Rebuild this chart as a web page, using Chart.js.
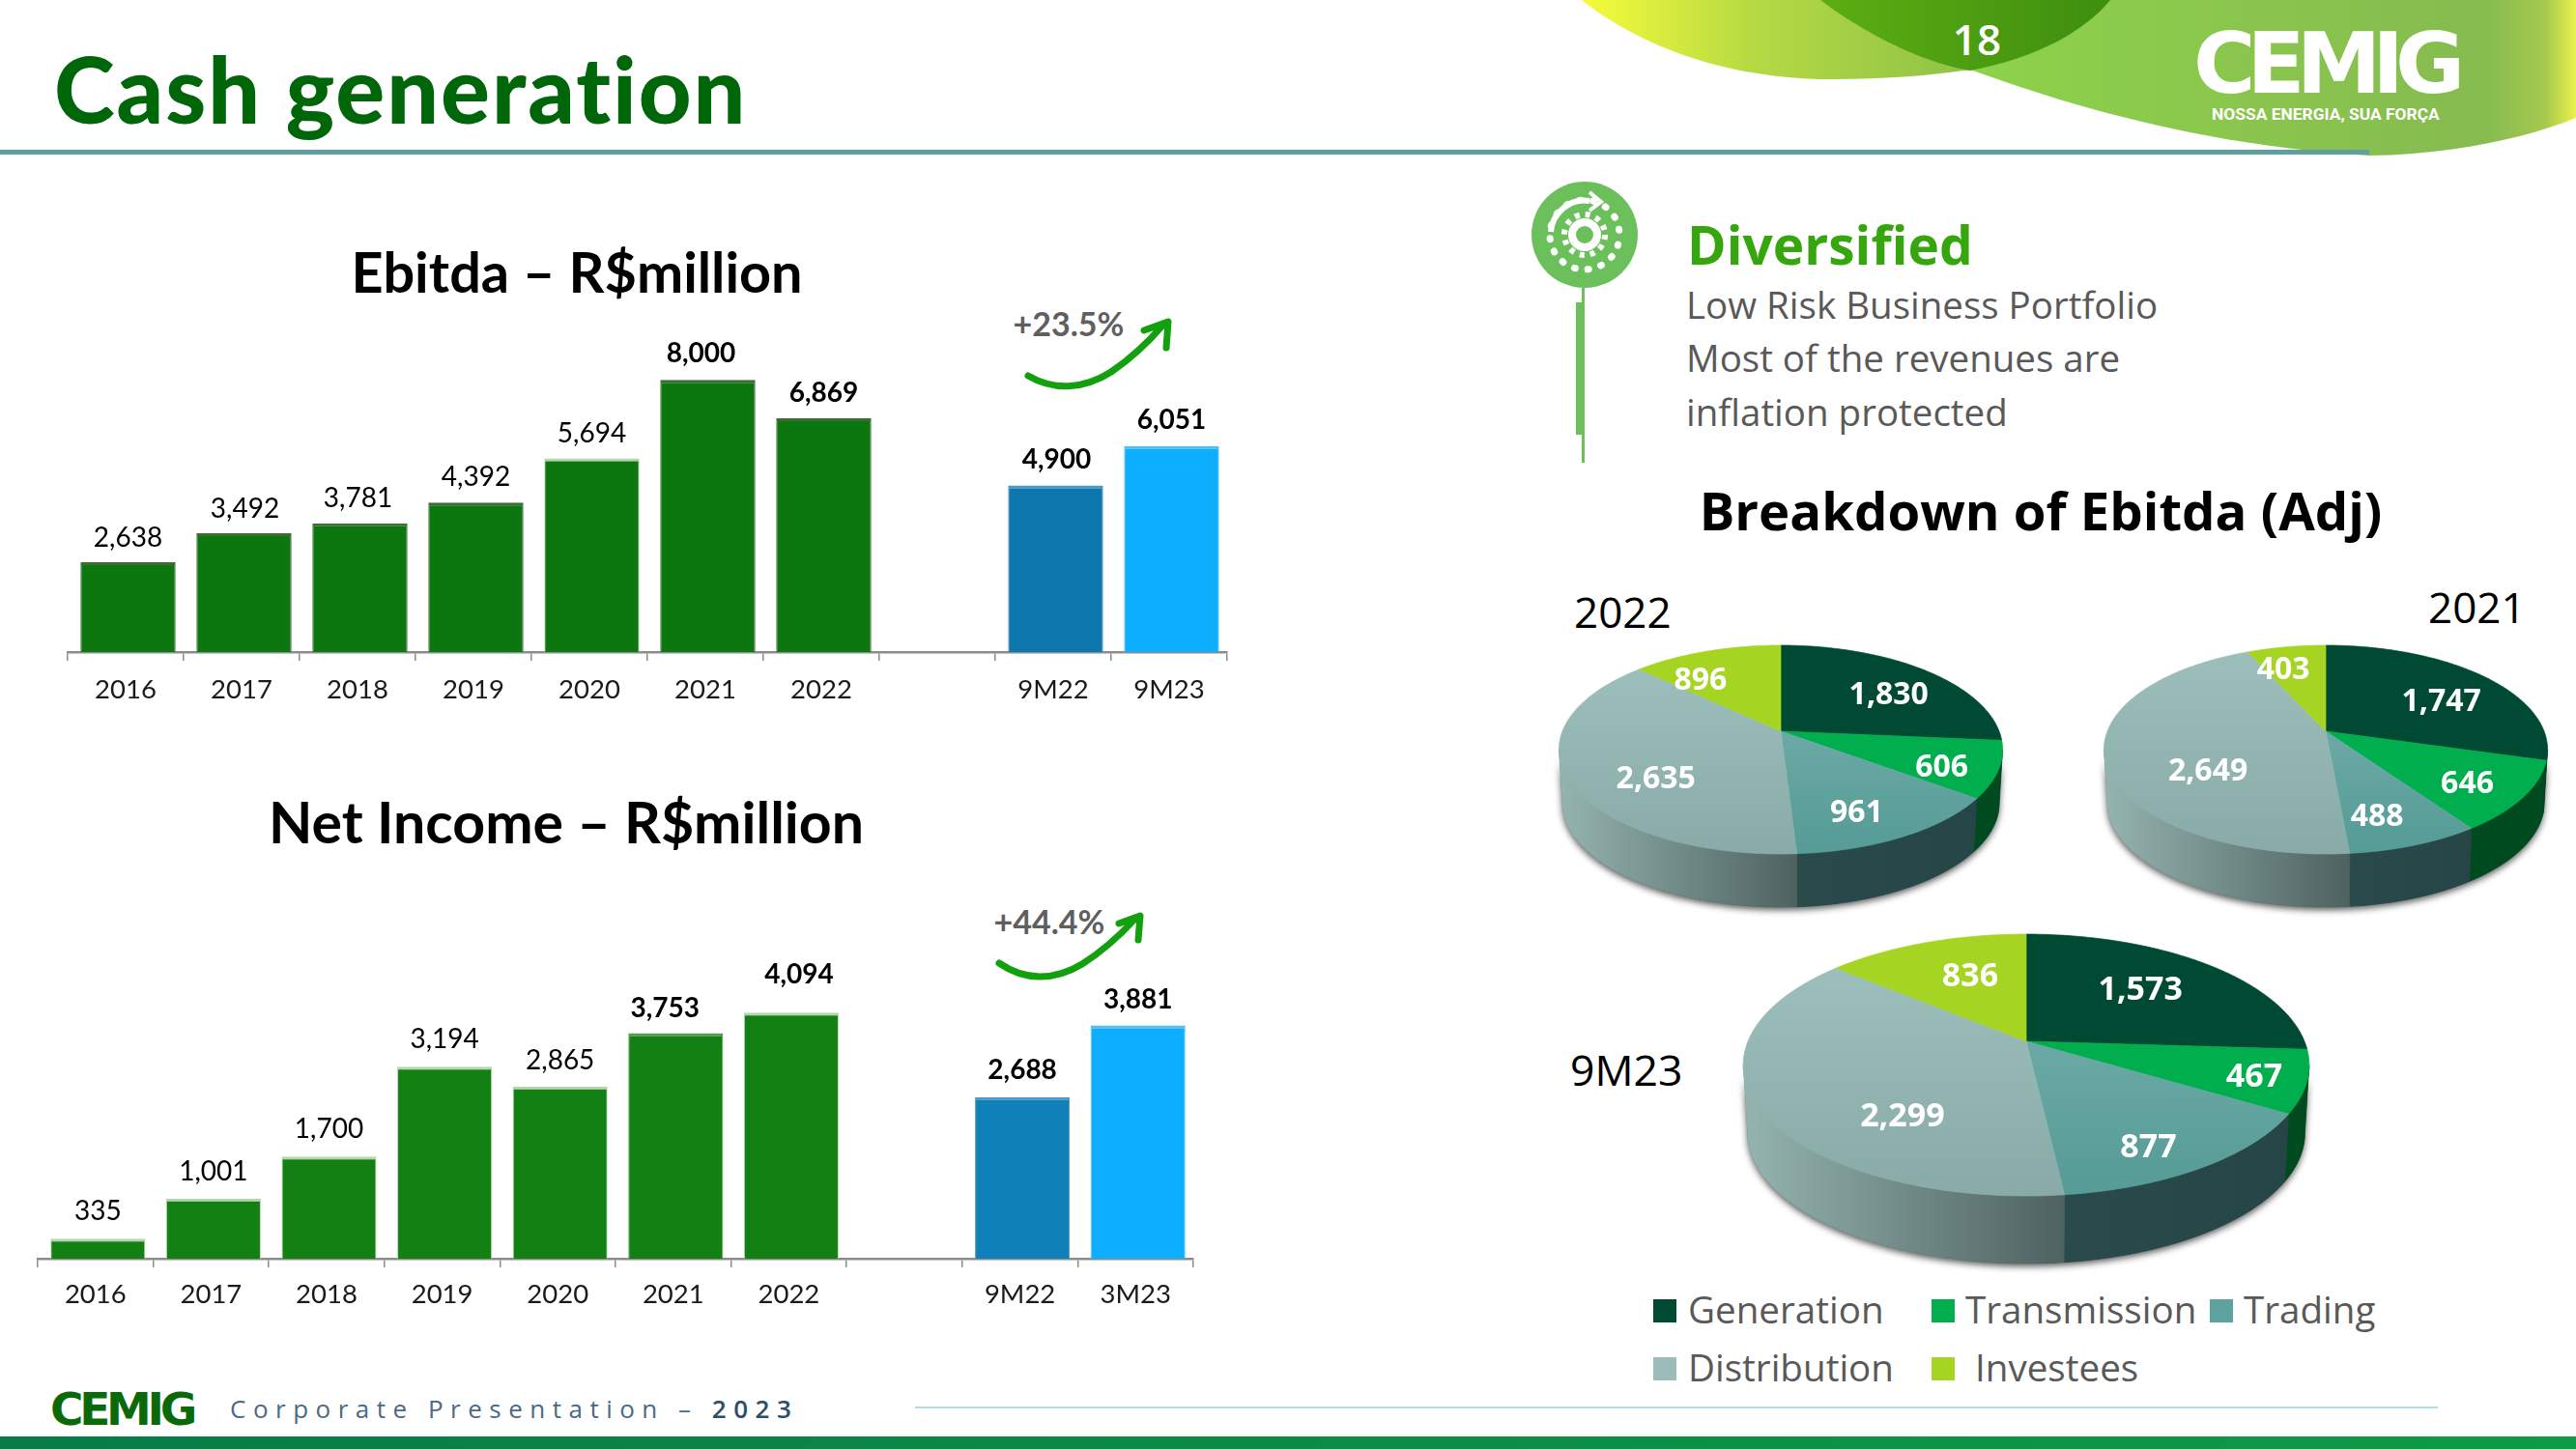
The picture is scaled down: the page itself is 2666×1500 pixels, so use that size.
<!DOCTYPE html>
<html><head><meta charset="utf-8">
<script src="https://cdn.jsdelivr.net/npm/chart.js@4"></script>
<style>
html,body{margin:0;padding:0;background:#fff;width:2666px;height:1500px;overflow:hidden}
#stage{position:relative;width:2666px;height:1500px;overflow:hidden}
.t{position:absolute;white-space:nowrap;transform:translateY(-50%);line-height:1;font-variant-ligatures:none}
.c{transform:translate(-50%,-50%)}
canvas{position:absolute}
svg{position:absolute;left:0;top:0}
.sw{position:absolute;width:24px;height:24px}
.os{font-family:"Open Sans",sans-serif}
.la{font-family:Lato,sans-serif}
</style></head><body><div id="stage">
<svg width="2666" height="1500" viewBox="0 0 2666 1500">
<defs>
<linearGradient id="g1" x1="1637" x2="2040" y1="0" y2="0" gradientUnits="userSpaceOnUse"><stop offset="0" stop-color="#f6fb3a"/><stop offset=".45" stop-color="#b4d943"/><stop offset="1" stop-color="#8fc248"/></linearGradient>
<linearGradient id="g2" x1="2040" x2="2666" y1="0" y2="0" gradientUnits="userSpaceOnUse"><stop offset="0" stop-color="#8ed24a"/><stop offset=".85" stop-color="#86bb50"/><stop offset=".95" stop-color="#a5c94e"/><stop offset="1" stop-color="#eaf24a"/></linearGradient>
<linearGradient id="g3" x1="1884" x2="2184" y1="0" y2="0" gradientUnits="userSpaceOnUse"><stop offset="0" stop-color="#5cae12"/><stop offset="1" stop-color="#3e8e10"/></linearGradient>
<linearGradient id="g4" x1="0" x2="2666" y1="0" y2="0" gradientUnits="userSpaceOnUse"><stop offset="0" stop-color="#087b45"/><stop offset="1" stop-color="#0e9a46"/></linearGradient>
</defs>
<path d="M1637 0 C1700 50 1790 82 1898 82 C1950 82 2000 78 2039 72 L1884 0 Z" fill="url(#g1)"/>
<path d="M1884 0 L2039 72 C2130 105 2270 150 2452 161 C2530 160 2610 145 2666 122 L2666 0 Z" fill="url(#g2)"/>
<path d="M1884 0 C1930 35 1990 65 2039 73 C2110 60 2160 30 2184 0 Z" fill="url(#g3)"/>
<rect x="0" y="155" width="2452" height="5" fill="#5f9f9d"/>
<rect x="947" y="1456" width="1576" height="2" fill="#b0dcdc"/>
<rect x="0" y="1487" width="2666" height="13" fill="url(#g4)"/>
<path d="M1064 389 C1090 404 1120 404 1150 385 C1175 368 1192 350 1204 336" fill="none" stroke="#12a00e" stroke-width="7" stroke-linecap="round"/>
<path d="M1184 342 L1209 333 L1207 360" fill="none" stroke="#12a00e" stroke-width="7" stroke-linecap="round" stroke-linejoin="round"/>
<path d="M1034 997 C1060 1015 1090 1016 1120 998 C1145 982 1162 965 1174 952" fill="none" stroke="#12a00e" stroke-width="7" stroke-linecap="round"/>
<path d="M1158 956 L1180 948 L1178 973" fill="none" stroke="#12a00e" stroke-width="7" stroke-linecap="round" stroke-linejoin="round"/>
<circle cx="1640" cy="243" r="55" fill="#6cc05c"/>
<rect x="1631" y="313" width="8" height="137" fill="#6cc05c"/>
<rect x="1637" y="298" width="3" height="181" fill="#6cc05c"/>
<g fill="none" stroke="#fff">
<circle cx="1640" cy="243" r="13" stroke-width="8"/>
<circle cx="1640" cy="243" r="21" stroke-width="6" stroke-dasharray="5 6"/>
<path d="M1605 240 A35 35 0 0 1 1645 208" stroke-width="6"/>
<path d="M1645 199 L1657 209 L1645 218" stroke-width="4"/>
<circle cx="1640" cy="243" r="36" stroke-width="7" stroke-dasharray="1 13" stroke-linecap="round" transform="rotate(10 1640 243)" stroke-dashoffset="-60" pathLength="226"/>
</g>
</svg>
<div class="t la" style="left:56px;top:91px;font-size:95px;font-weight:900;letter-spacing:2px;color:#00660a" id="h1">Cash generation</div>
<div class="t os" style="left:2046px;top:40px;font-size:44px;font-weight:600;color:#fff;transform:translate(-50%,-50%)">18</div>
<div class="t" style="left:2270px;top:66px;font-family:'DejaVu Sans',sans-serif;font-weight:700;font-size:88px;letter-spacing:-9px;color:#fff">CEMIG</div>
<div class="t" style="left:2289px;top:119px;font-family:Roboto,sans-serif;font-weight:700;font-size:17.4px;color:#fff">NOSSA ENERGIA, SUA FORÇA</div>
<div class="t c la" style="left:597px;top:281px;font-size:57.6px;font-weight:700;color:#000">Ebitda – R$million</div>
<div class="t c la" style="left:586px;top:850px;font-size:59px;font-weight:700;color:#000">Net Income – R$million</div>
<div class="t c la" style="left:1106px;top:335px;font-size:34px;font-weight:700;color:#5f5f5f">+23.5%</div>
<div class="t c la" style="left:1086px;top:954px;font-size:34px;font-weight:700;color:#5f5f5f">+44.4%</div>
<div class="t os" style="left:1746px;top:252px;font-size:55px;font-weight:700;color:#36a60e">Diversified</div>
<div class="t os" style="left:1745px;top:315px;font-size:38.5px;color:#595959">Low Risk Business Portfolio</div>
<div class="t os" style="left:1745px;top:370px;font-size:38.5px;color:#595959">Most of the revenues are</div>
<div class="t os" style="left:1745px;top:426px;font-size:38.5px;color:#595959">inflation protected</div>
<div class="t c os" style="left:2112px;top:527.5px;font-size:54.5px;font-weight:700;color:#000">Breakdown of Ebitda (Adj)</div>
<div class="t os" style="left:1629px;top:633px;font-size:44px;color:#000">2022</div>
<div class="t os" style="left:2513px;top:628px;font-size:44px;color:#000">2021</div>
<div class="t os" style="left:1625px;top:1107px;font-size:44.5px;color:#000">9M23</div>
<div class="sw" style="left:1711px;top:1345px;background:#004a33"></div>
<div class="t os" style="left:1747px;top:1354.5px;font-size:38.6px;color:#595959">Generation</div>
<div class="sw" style="left:1999px;top:1345px;background:#00ae4e"></div>
<div class="t os" style="left:2034px;top:1354.5px;font-size:38.6px;color:#595959">Transmission</div>
<div class="sw" style="left:2287px;top:1345px;background:#5fa3a0"></div>
<div class="t os" style="left:2322px;top:1354.5px;font-size:38.6px;color:#595959">Trading</div>
<div class="sw" style="left:1711px;top:1405px;background:#9bbcb9"></div>
<div class="t os" style="left:1747px;top:1414.5px;font-size:38.6px;color:#595959">Distribution</div>
<div class="sw" style="left:1999px;top:1405px;background:#a5d422"></div>
<div class="t os" style="left:2044px;top:1414.5px;font-size:38.6px;color:#595959">Investees</div>
<div class="t" style="left:52px;top:1458px;font-family:'DejaVu Sans',sans-serif;font-weight:700;font-size:47px;letter-spacing:-4.3px;color:#0a6a0a">CEMIG</div>
<div class="t os" style="left:238px;top:1458px;font-size:26px;letter-spacing:7.5px;color:#4a6a85">Corporate Presentation – <b style="color:#2f4d6b;font-weight:600">2023</b></div>
<canvas id="ebitda" width="1204" height="455" style="left:68px;top:290px"></canvas>
<canvas id="netIncome" width="1200" height="450" style="left:37px;top:923px"></canvas>
<canvas id="pie2022" width="480" height="480" style="left:1603px;top:517px"></canvas>
<canvas id="pie2021" width="480" height="480" style="left:2167px;top:517px"></canvas>
<canvas id="pie9M23" width="604" height="604" style="left:1795px;top:776px"></canvas>
</div>
<script>
// ---- data ----
const ebitdaCategories = ['2016','2017','2018','2019','2020','2021','2022','','9M22','9M23'];
const ebitdaValues     = [2638,3492,3781,4392,5694,8000,6869,null,4900,6051];
const netCategories    = ['2016','2017','2018','2019','2020','2021','2022','','9M22','3M23'];
const netValues        = [335,1001,1700,3194,2865,3753,4094,null,2688,3881];
const segments   = ['Generation','Transmission','Trading','Distribution','Investees'];
const values2022 = [1830,606,961,2635,896];
const values2021 = [1747,646,488,2649,403];
const values9M23 = [1573,467,877,2299,836];

// ---- styles ----
const G1='#0d770f',G2='#128012',B1='#0c76ad',B2='#0eaeff';
const LT='#b5d6ad',DK='#3f6b35';
const ebitdaColors=[G1,G1,G1,G1,G1,G1,G1,G1,B1,B2];
const ebitdaEdges=[DK,DK,DK,DK,LT,DK,DK,DK,'#4d98c4','#55bdf0'];
const ebitdaBold=[5,6,8,9];
const ebitdaNudge=[[0,2.5],[1,3],[-2,2],[0,2],[0,3],[-7,1],[0,2],[0,0],[1,2],[0,1]];
const netColors=[G2,G2,G2,G2,G2,G2,G2,G2,'#0f80b8',B2];
const netEdges=[LT,LT,LT,LT,LT,'#5d9a55',LT,LT,'#4d98c4','#55bdf0'];
const netBold=[5,6,8,9];
const netNudge=[[0,0],[0,0],[0,0],[0,0],[0,1],[-11,2],[8,-11],[0,0],[0,0],[0,1]];

const fmt=v=>v.toLocaleString('en-US');
const barLabels={id:'barLabels',
  beforeDatasetsDraw(ch){ch.ctx.save();ch.ctx.translate(2.5,0);},
  afterDatasetsDraw(ch,a,o){
    const c=ch.ctx;c.restore();c.save();
    c.textAlign='center';c.textBaseline='middle';c.fillStyle='#000';
    ch.getDatasetMeta(0).data.forEach((b,i)=>{
      const v=ch.data.datasets[0].data[i]; if(v==null)return;
      c.font=(o.bold.includes(i)?'700 ':'400 ')+'28px Lato';
      c.fillText(fmt(v),b.x+2.5+o.nudge[i][0],b.y-28+o.nudge[i][1]);
    });
    c.restore();
  }};
function barChart(id,cats,vals,colors,edges,max,padTop,bold,nudge,tickPad){
  new Chart(document.getElementById(id),{type:'bar',
    data:{labels:cats,datasets:[{data:vals,backgroundColor:colors,borderColor:edges,
      borderWidth:{top:3,left:1,right:1,bottom:0},borderSkipped:'bottom',
      barPercentage:0.82,categoryPercentage:1}]},
    options:{responsive:false,animation:false,events:[],
      layout:{padding:{left:2,right:2,top:padTop,bottom:0}},
      scales:{
        y:{display:false,min:0,max:max},
        x:{afterFit(s){s.height=70;},
           grid:{drawOnChartArea:false,drawTicks:true,tickLength:9,color:'#8c8c8c',lineWidth:1.5,offset:true},
           border:{color:'#8c8c8c',width:2.5},
           ticks:{color:'#1a1a1a',font:{family:'Lato',size:27.5},padding:tickPad,maxRotation:0,autoSkip:false}}},
      plugins:{legend:{display:false},tooltip:{enabled:false},barLabels:{bold,nudge}}},
    plugins:[barLabels]});
}
barChart('ebitda',ebitdaCategories,ebitdaValues,ebitdaColors,ebitdaEdges,9000,68,ebitdaBold,ebitdaNudge,14);
barChart('netIncome',netCategories,netValues,netColors,netEdges,4500,100,netBold,netNudge,12);

// ---- tilted pie drawn from the arc elements Chart.js computes ----
const topStops=[['#004a33','#004a33'],['#00ae4e','#00ae4e'],['#6ba9a6','#559b96'],['#9dbfbc','#89aba8'],['#a5d522','#a5d522']];
const wallStops=[['#003b29','#003b29'],['#004a20','#004a20'],['#2a4a4b','#264546'],['#95b4b0','#4e6260'],['#6f8f10','#6f8f10']];
const tilted={id:'tilted',
  beforeDatasetDraw(){return false;},
  afterDatasetsDraw(ch,a,o){
    const c=ch.ctx,arcs=ch.getDatasetMeta(0).data,{k,persp,depth,taper}=o;
    const P=(ang,f,dy,sx)=>{const e=arcs[0];const u=Math.cos(ang)*f,v=-Math.sin(ang)*f,d=1+persp*v;
      return [e.x+e.outerRadius*u/d*sx, e.y-k*e.outerRadius*v/d+dy];};
    const s0=Math.asin(persp),s1=Math.PI-s0;
    const rim=(p,a0,a1,dy,sx)=>{const n=Math.max(2,Math.ceil(Math.abs(a1-a0)*60));
      for(let i=0;i<=n;i++){const q=P(a0+(a1-a0)*i/n,1,dy,sx);p.push(q);}};
    const wallPath=(a0,a1)=>{const top=[],bot=[];rim(top,a0,a1,0,1);rim(bot,a0,a1,depth,taper);
      c.beginPath();top.forEach((q,i)=>i?c.lineTo(q[0],q[1]):c.moveTo(q[0],q[1]));
      bot.reverse().forEach(q=>c.lineTo(q[0],q[1]));c.closePath();return [top[0][0],top[top.length-1][0]];};
    c.save();c.shadowColor='rgba(0,0,0,.65)';c.shadowBlur=7;c.shadowOffsetY=3;c.fillStyle='#2a4a4b';
    wallPath(s0,s1);c.fill();c.restore();
    arcs.forEach((e,i)=>{
      const a0=Math.max(e.startAngle,s0),a1=Math.min(e.endAngle,s1);
      if(a1<=a0)return;
      const xs=wallPath(a0,a1);const l=Math.min(xs[0],xs[1]),r=Math.max(xs[0],xs[1]);
      const g=c.createLinearGradient(l,0,r,0);g.addColorStop(0,wallStops[i][0]);g.addColorStop(1,wallStops[i][1]);
      c.fillStyle=g;c.fill();c.strokeStyle=g;c.lineWidth=.7;c.stroke();
    });
    arcs.forEach((e,i)=>{
      const pts=[[e.x,e.y]];rim(pts,e.startAngle,e.endAngle,0,1);
      c.beginPath();pts.forEach((q,j)=>j?c.lineTo(q[0],q[1]):c.moveTo(q[0],q[1]));c.closePath();
      const ys=pts.map(q=>q[1]),g=c.createLinearGradient(0,Math.min(...ys),0,Math.max(...ys));
      g.addColorStop(0,topStops[i][0]);g.addColorStop(1,topStops[i][1]);
      c.fillStyle=g;c.fill();c.strokeStyle=g;c.lineWidth=.7;c.stroke();
    });
    c.textAlign='center';c.textBaseline='middle';c.fillStyle='#fff';c.font='700 '+o.font+'px "Open Sans"';
    arcs.forEach((e,i)=>{
      const m=(e.startAngle+e.endAngle)/2,q=P(m,.7,0,1);
      c.fillText(fmt(ch.data.datasets[0].data[i]),q[0]+o.nudge[i][0],q[1]+o.nudge[i][1]+3.5);
    });
  }};
function pie(id,vals,pad,opts){
  new Chart(document.getElementById(id),{type:'pie',
    data:{labels:segments,datasets:[{data:vals,borderWidth:0,backgroundColor:topStops.map(s=>s[0])}]},
    options:{responsive:false,animation:false,events:[],layout:{padding:pad},
      plugins:{legend:{display:false},tooltip:{enabled:false},tilted:opts}},
    plugins:[tilted]});
}
pie('pie2022',values2022,14,{k:.463,persp:.176,depth:55,taper:.985,font:32,
  nudge:[[4,5],[12,7],[-6,9],[22,14],[-27,5]]});
pie('pie2021',values2021,14,{k:.463,persp:.176,depth:55,taper:.985,font:32,
  nudge:[[2,7],[8,5],[-8,8],[36,19],[-14,-3]]});
pie('pie9M23',values9M23,14,{k:.455,persp:.181,depth:70,taper:.985,font:34,
  nudge:[[-17,2],[36,5],[5,20],[61,29],[18,4]]});
</script></body></html>
